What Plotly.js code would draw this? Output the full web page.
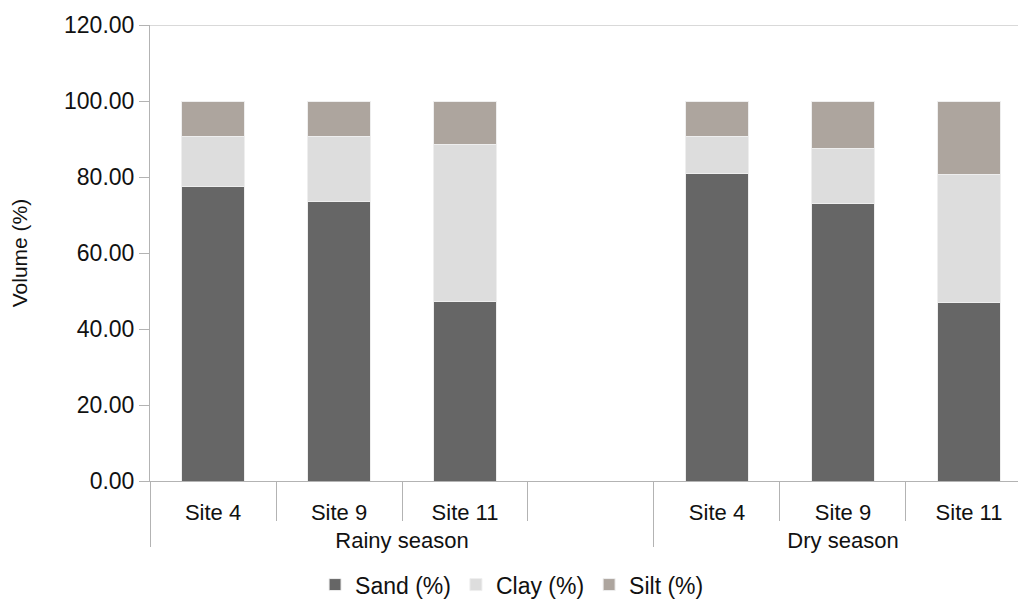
<!DOCTYPE html>
<html>
<head>
<meta charset="utf-8">
<script src="https://cdn.plot.ly/plotly-3.0.1.min.js"></script>
<style>html,body{margin:0;padding:0;background:#fff;}#chart{width:1018px;height:599px;}</style>
</head>
<body>
<div id="chart"></div>
<script>
const seasons = ['Rainy season','Rainy season','Rainy season','Rainy season','Dry season','Dry season','Dry season'];
const sites = ['Site 4','Site 9','Site 11','','Site 4','Site 9','Site 11'];
const sand = [77.4, 73.5, 47.3, null, 81.0, 72.9, 47.0];
const clay = [13.2, 17.1, 41.2, null, 9.6, 14.5, 33.6];
const silt = [9.4, 9.4, 11.5, null, 9.4, 12.6, 19.4];
const seriesNames = ['Sand (%)', 'Clay (%)', 'Silt (%)'];
const colors = ['#666666', '#dddddd', '#ada59e'];

const fam = 'Liberation Sans, Arial, sans-serif';
const txt = '#111';
const axisColor = '#b3b3b3';

// slot positions (category index) and group geometry derived from the arrays
const idx = sites.map((_, i) => i);
const xr = [-0.5, 6.389];
const groupNames = [...new Set(seasons)];
const groupStart = groupNames.map(g => seasons.indexOf(g) - 0.5);
const groupEnd = groupNames.map(g => seasons.lastIndexOf(g) + 0.5);
const groupCenter = groupNames.map((g, i) => (groupStart[i] + groupEnd[i]) / 2);
const boundaries = idx.slice(0, -1).map(i => i + 0.5).filter(b => !groupStart.includes(b));

const traces = [sand, clay, silt].map((vals, i) => ({
  type: 'bar',
  name: seriesNames[i],
  x: idx,
  y: vals,
  marker: {color: colors[i], line: {color: '#eeeeee', width: 1}},
  hoverinfo: 'y'
}));
['x2', 'x3', 'x4'].forEach(ax => traces.push({type: 'scatter', x: [0], y: [null], xaxis: ax, yaxis: 'y', showlegend: false, hoverinfo: 'skip'}));

const hidden = {type: 'linear', range: xr, overlaying: 'x', anchor: 'y', side: 'bottom',
                showgrid: false, zeroline: false, showline: false, tickmode: 'array'};

const layout = {
  width: 1018, height: 599,
  margin: {l: 150, r: 0, t: 25, b: 118},
  barmode: 'stack',
  bargap: 0.5,
  paper_bgcolor: '#fff', plot_bgcolor: '#fff',
  font: {family: fam, size: 23, color: txt},
  showlegend: true,
  legend: {orientation: 'h', xref: 'container', yref: 'container', x: 0.503, xanchor: 'center', y: 0.024, yanchor: 'middle',
           font: {family: fam, size: 23, color: txt}, itemwidth: 30, traceorder: 'normal'},
  xaxis: {
    type: 'linear', range: xr,
    tickmode: 'array', tickvals: idx, ticktext: sites,
    showline: true, linecolor: axisColor, linewidth: 1,
    ticks: '', showgrid: false, zeroline: false,
    ticklabelstandoff: 12,
    tickfont: {family: fam, size: 22, color: txt}
  },
  xaxis2: Object.assign({}, hidden, {
    tickvals: boundaries, ticks: 'outside', ticklen: 39, tickcolor: axisColor, tickwidth: 1, showticklabels: false
  }),
  xaxis3: Object.assign({}, hidden, {
    tickvals: groupStart, ticks: 'outside', ticklen: 65, tickcolor: axisColor, tickwidth: 1, showticklabels: false
  }),
  xaxis4: Object.assign({}, hidden, {
    tickvals: groupCenter, ticktext: groupNames, ticks: '', showticklabels: true,
    ticklabelstandoff: 44, tickfont: {family: fam, size: 22, color: txt}
  }),
  yaxis: {
    range: [0, 120], dtick: 20, tick0: 0, tickformat: '.2f',
    ticks: 'outside', ticklen: 10, tickcolor: axisColor, tickwidth: 1,
    showline: true, linecolor: axisColor, linewidth: 1,
    showgrid: false, zeroline: false,
    tickfont: {family: fam, size: 23, color: txt},
    title: {text: 'Volume (%)', font: {family: fam, size: 21, color: txt}, standoff: 30}
  },
  shapes: [
    {type: 'line', xref: 'paper', yref: 'y', x0: -10/868, x1: 1, y0: 120, y1: 120, line: {color: axisColor, width: 1}}
  ]
};

Plotly.newPlot('chart', traces, layout, {displayModeBar: false, staticPlot: true});
</script>
</body>
</html>
